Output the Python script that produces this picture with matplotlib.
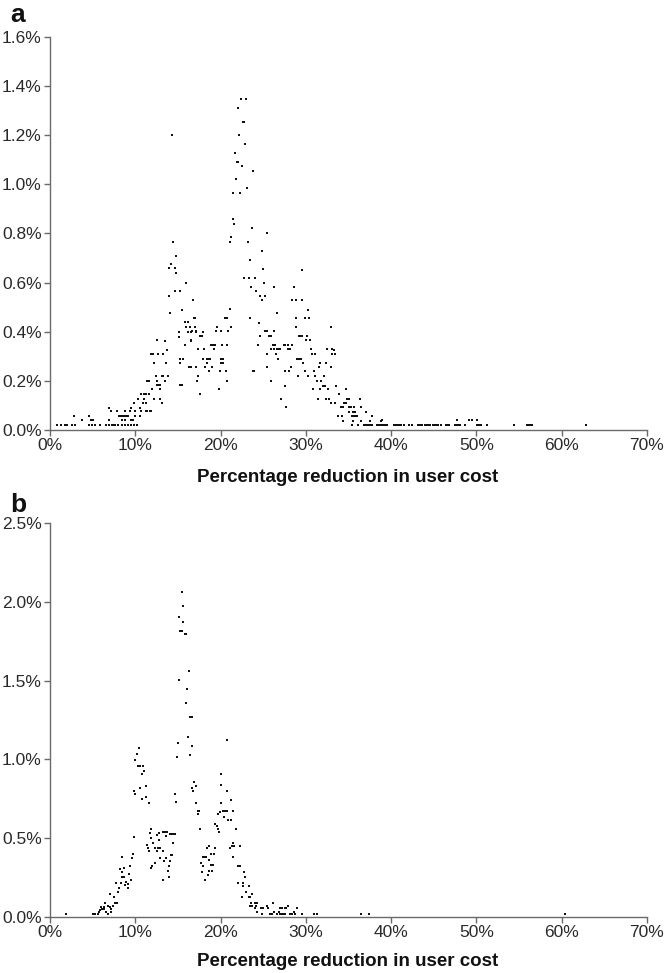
import matplotlib
matplotlib.use("Agg")
import matplotlib.pyplot as plt
from matplotlib.ticker import FuncFormatter, MultipleLocator

plt.rcParams['font.family'] = ['Liberation Sans', 'DejaVu Sans']

# ---------------- Panel a data (x: % reduction, y: % share) ----------------
a_x_low = [0.86, 1.25, 1.76, 2.0, 2.55, 2.94, 4.6, 4.9, 5.3, 5.9, 6.6, 6.9, 7.25, 7.45, 7.65, 7.96, 8.5, 8.8, 9.1, 9.5, 9.8, 10.2,
           3.8, 4.8, 5.0, 6.9, 8.5, 8.8, 9.5, 9.7,
           2.86, 4.63, 8.04, 8.2, 8.4, 8.6, 8.8, 9.0, 9.2, 10.0, 10.5,
           7.1, 7.8, 8.8, 9.4, 10.0, 10.7, 11.2, 11.4, 11.7, 11.9,
           6.9, 9.5, 10.5,
           9.9, 10.9, 11.2, 13.1,
           10.3, 11.0, 12.2, 12.9,
           10.7, 11.0, 11.3, 11.6,
           12.0, 12.9,
           12.5, 12.7, 12.9, 15.5,
           11.4, 11.6, 12.5, 13.5,
           12.4, 13.1, 13.2, 13.8,
           16.5, 12.2, 13.6, 15.2, 15.6,
           11.9, 12.1, 12.7, 13.3, 13.7, 15.8, 13.5, 16.5, 12.6, 15.1, 15.1, 16.2, 16.5]
a_y_low = [0.02] * 22 + [0.04] * 8 + [0.057] * 11 + [0.076] * 10 + [0.09] * 3 + [0.11] * 4 + [0.128] * 4 + \
          [0.146] * 4 + [0.165] * 2 + [0.182] * 4 + [0.20] * 4 + [0.22] * 4 + \
          [0.255, 0.273, 0.273, 0.273, 0.29] + \
          [0.308, 0.308, 0.308, 0.308, 0.327, 0.345, 0.362, 0.362, 0.366, 0.38, 0.40, 0.40, 0.40]

a_x_mid = [14.3, 14.4, 14.8, 14.0, 14.2, 14.6, 14.8, 13.9, 14.1, 14.6, 15.3, 15.9, 15.5, 16.8, 16.9, 15.8, 16.2,
           16.0, 16.4, 16.5, 17.1, 17.9, 15.8, 16.5, 15.3, 15.2, 16.3,
           16.75, 21.05, 20.5, 17.0, 17.0, 16.6, 17.1, 17.6, 17.8, 19.6, 19.5, 20.1, 20.9, 21.2, 20.7,
           17.3, 18.0, 18.9, 19.1, 19.3, 19.2, 20.2, 20.7, 17.9, 18.4, 18.6, 18.8, 18.4, 20.0, 20.3, 20.1, 20.3,
           16.4, 17.1, 18.2, 19.0, 18.6, 19.9, 20.6, 17.4, 17.2, 20.8, 17.6, 19.8]
a_y_mid = [1.20, 0.763, 0.709, 0.658, 0.674, 0.658, 0.637, 0.546, 0.475, 0.565, 0.565, 0.60, 0.49, 0.53, 0.454, 0.438, 0.438,
           0.42, 0.42, 0.40, 0.40, 0.40, 0.346, 0.366, 0.29, 0.183, 0.257,
           0.528, 0.492, 0.455, 0.455, 0.42, 0.402, 0.402, 0.384, 0.384, 0.42, 0.402, 0.402, 0.402, 0.42, 0.455,
           0.33, 0.33, 0.347, 0.347, 0.347, 0.33, 0.347, 0.347, 0.29, 0.29, 0.29, 0.29, 0.274, 0.29, 0.29, 0.274, 0.274,
           0.256, 0.256, 0.256, 0.256, 0.238, 0.238, 0.238, 0.22, 0.20, 0.20, 0.146, 0.165]

a_x_peak = [22.4, 23.0, 22.0, 22.6, 22.8, 22.2, 22.9, 21.7, 21.9, 22.1, 22.5, 21.8, 23.8, 23.1, 21.4, 22.3, 21.5, 21.6,
            21.2, 21.1, 23.2, 23.7, 25.4, 23.4, 24.8, 22.7, 23.3, 24.0, 25.0, 23.6, 24.1, 24.2, 24.6, 24.9, 25.2,
            26.3, 23.5, 23.9, 26.6, 25.1,
            24.5, 25.2, 25.4, 25.5, 24.6, 25.7, 25.9, 26.3, 24.4, 26.2, 26.4, 27.4, 27.6, 27.9, 28.4, 25.9, 26.3,
            26.6, 26.8, 27.0, 27.9, 28.1, 25.5, 26.5, 26.7, 25.4, 23.8, 28.2, 27.6, 28.0, 25.9, 27.6, 27.1, 27.7,
            29.1, 29.2, 28.4, 28.9, 28.6]
a_y_peak = [1.345, 1.345, 1.31, 1.254, 1.254, 1.20, 1.163, 1.128, 1.09, 1.09, 1.075, 1.02, 1.055, 0.983, 0.965, 0.965, 0.857, 0.838,
            0.784, 0.763, 0.763, 0.82, 0.80, 0.693, 0.73, 0.62, 0.62, 0.62, 0.655, 0.583, 0.565, 0.565, 0.546, 0.53, 0.546,
            0.583, 0.454, 0.241, 0.475, 0.60,
            0.437, 0.402, 0.402, 0.402, 0.384, 0.384, 0.384, 0.402, 0.347, 0.347, 0.347, 0.347, 0.347, 0.347, 0.347, 0.33, 0.33,
            0.33, 0.33, 0.33, 0.33, 0.33, 0.311, 0.311, 0.29, 0.256, 0.238, 0.256, 0.238, 0.238, 0.20, 0.18, 0.128, 0.092,
            0.22, 0.29, 0.528, 0.528, 0.58]

a_x_right = [29.6, 29.5, 30.2, 28.9, 29.9, 30.4, 32.95, 28.8, 29.2, 29.4, 29.6, 30.1, 30.0, 30.5, 30.6, 32.5, 33.1,
             30.7, 31.1, 33.1, 29.0, 29.2, 29.4, 29.7, 31.6, 32.4, 31.5, 32.9, 29.9, 30.9, 31.0, 29.1, 30.3, 31.1, 32.1,
             31.3, 31.8, 32.0, 32.2, 33.5, 30.8, 31.7, 32.6, 33.85, 34.7, 31.4, 32.4, 32.7, 34.8, 35.0, 36.3,
             32.9, 33.4, 34.5, 34.7, 34.1, 34.3, 35.0, 35.3, 35.7, 36.5, 35.1, 35.5, 35.8, 37.0,
             33.8, 34.2, 35.4, 35.6, 35.8, 36.0, 37.8, 34.4, 35.5, 36.5, 37.5, 38.8, 33.3, 33.4]
a_y_right = [0.65, 0.528, 0.49, 0.455, 0.455, 0.455, 0.42, 0.42, 0.384, 0.384, 0.384, 0.384, 0.365, 0.365, 0.33, 0.33, 0.33,
             0.311, 0.311, 0.311, 0.29, 0.29, 0.29, 0.274, 0.274, 0.274, 0.256, 0.256, 0.238, 0.238, 0.238, 0.22, 0.22, 0.22, 0.22,
             0.20, 0.20, 0.18, 0.18, 0.18, 0.165, 0.165, 0.165, 0.146, 0.165, 0.128, 0.128, 0.128, 0.128, 0.128, 0.128,
             0.11, 0.11, 0.11, 0.11, 0.092, 0.092, 0.092, 0.092, 0.092, 0.092, 0.074, 0.074, 0.074, 0.074,
             0.055, 0.055, 0.055, 0.055, 0.055, 0.055, 0.055, 0.037, 0.037, 0.037, 0.037, 0.037, 0.325, 0.31]

a_x_tail = [35.4, 36.1, 36.8, 37.0, 37.2, 37.4, 37.6, 37.8, 38.3, 38.5, 38.7,
            38.9, 39.1, 39.3, 39.5, 40.3, 40.5, 40.7, 40.9, 41.2, 41.5, 42.1, 42.4, 43.2, 43.4, 43.6, 44.0, 44.2,
            44.3, 44.6, 44.9, 45.1, 45.3, 45.5, 45.8, 46.4, 46.6, 46.8, 47.5, 47.7, 47.9, 48.1, 48.7, 50.1, 50.3,
            50.5, 51.2, 54.4, 55.9, 56.1, 56.3, 56.5, 62.9,
            38.9, 47.7, 49.1, 49.5, 50.1]
a_y_tail = [0.02] * 53 + [0.04] * 5

# ---------------- Panel b data ----------------
b_x_ramp = [1.9, 5.0, 5.3, 5.6, 5.75, 6.1, 6.3, 6.3, 6.5, 6.85, 7.0, 6.85, 7.2, 7.2, 7.4, 7.6, 7.8, 7.5, 7.0,
            8.0, 8.1, 8.3, 8.5, 8.7, 8.4, 8.2, 7.75, 8.9, 9.1, 9.2, 8.8, 8.7, 8.4, 9.3, 9.5, 9.4, 9.6, 9.7, 9.9,
            5.9, 6.0, 6.6]
b_y_ramp = [0.015, 0.015, 0.015, 0.015, 0.032, 0.047, 0.064, 0.047, 0.085, 0.07, 0.064, 0.015, 0.032, 0.049, 0.068,
            0.089, 0.089, 0.123, 0.142, 0.159, 0.18, 0.216, 0.25, 0.25, 0.286, 0.305, 0.216, 0.222, 0.21, 0.18, 0.2,
            0.307, 0.38, 0.27, 0.233, 0.324, 0.375, 0.396, 0.504, 0.04, 0.06, 0.03]

b_x_left = [10.4, 10.2, 10.0, 10.3, 10.6, 10.9, 11.0, 10.8, 9.86, 9.98, 10.5, 10.8, 11.2, 11.2, 11.6,
            11.35, 11.5, 11.6, 11.9, 11.7, 11.8, 12.1, 12.3, 12.5, 12.7, 12.9, 13.2, 12.75, 12.6, 12.8, 13.2,
            13.5, 13.7, 13.6, 14.1, 14.3, 14.5, 14.7, 14.4, 11.9, 12.0, 12.3, 12.9, 13.3, 13.9, 13.4, 13.6,
            13.9, 14.2, 14.3, 14.1, 13.8]
b_y_left = [1.07, 1.034, 0.996, 0.96, 0.96, 0.96, 0.926, 0.905, 0.80, 0.78, 0.816, 0.746, 0.763, 0.833, 0.725,
            0.455, 0.434, 0.42, 0.497, 0.534, 0.56, 0.47, 0.434, 0.42, 0.434, 0.434, 0.42, 0.49, 0.517, 0.53, 0.54,
            0.54, 0.54, 0.51, 0.525, 0.525, 0.525, 0.525, 0.47, 0.307, 0.32, 0.343, 0.37, 0.233, 0.25, 0.354, 0.37,
            0.32, 0.39, 0.39, 0.356, 0.29]

b_x_peak = [15.45, 15.6, 15.1, 15.65, 15.25, 15.45, 15.8, 16.0, 16.3, 15.1, 16.1, 15.95, 16.4, 16.6, 15.0, 16.2,
            16.7, 16.4, 14.9, 14.7, 14.75,
            16.9, 17.1, 16.7, 16.8, 17.1, 17.3, 17.5, 17.4, 17.6]
b_y_peak = [2.066, 1.977, 1.907, 1.87, 1.816, 1.816, 1.795, 1.795, 1.56, 1.504, 1.45, 1.36, 1.267, 1.267, 1.106, 1.14,
            1.087, 1.03, 1.017, 0.78, 0.727,
            0.854, 0.833, 0.816, 0.80, 0.725, 0.672, 0.672, 0.65, 0.56]

b_x_right = [20.0, 20.05, 20.1, 20.7, 21.2, 19.75, 19.95, 20.3, 20.5, 20.7, 20.9, 21.2, 21.4, 19.4, 19.6, 19.7, 19.8,
             21.8, 21.5, 21.6, 21.1, 21.3, 22.3, 21.5, 20.7, 20.4, 20.8,
             17.9, 18.1, 18.3, 18.4, 18.6, 17.7, 17.9, 18.6, 18.9, 19.2, 19.3, 18.9, 19.1, 18.7, 19.0, 18.5, 18.2, 17.8,
             22.1, 22.3, 22.8, 22.9, 22.1, 22.6, 22.6, 23.3, 23.0, 23.3, 23.5, 22.5, 23.7]
b_y_right = [0.905, 0.837, 0.725, 0.80, 0.742, 0.65, 0.667, 0.672, 0.672, 0.672, 0.614, 0.614, 0.672, 0.59, 0.578, 0.56, 0.54,
             0.56, 0.47, 0.45, 0.434, 0.45, 0.45, 0.38, 1.123, 0.636, 0.797,
             0.38, 0.38, 0.38, 0.434, 0.45, 0.343, 0.322, 0.36, 0.40, 0.40, 0.434, 0.328, 0.328, 0.292, 0.288, 0.265, 0.233, 0.286,
             0.324, 0.324, 0.286, 0.25, 0.212, 0.197, 0.212, 0.197, 0.159, 0.127, 0.127, 0.127, 0.144]

b_x_tail = [23.5, 23.7, 24.1, 23.55, 24.06, 24.26, 24.0, 24.7, 25.0, 24.3, 24.8, 25.4, 25.6, 25.8, 26.0, 26.2, 26.3,
            26.8, 26.6, 27.0, 27.2, 27.4, 27.6, 27.0, 27.2, 27.5, 27.7, 27.9, 28.1, 28.4, 28.7, 28.6, 29.0, 29.5,
            31.0, 31.3, 36.5, 37.4, 60.4]
b_y_tail = [0.07, 0.07, 0.07, 0.089, 0.089, 0.089, 0.053, 0.053, 0.053, 0.032, 0.015, 0.07, 0.053, 0.015, 0.015, 0.089, 0.032,
            0.032, 0.015, 0.015, 0.015, 0.015, 0.015, 0.053, 0.053, 0.053, 0.053, 0.07, 0.015, 0.015, 0.015, 0.032, 0.053, 0.015,
            0.015, 0.015, 0.015, 0.015, 0.015]

xa = a_x_low + a_x_mid + a_x_peak + a_x_right + a_x_tail
ya = a_y_low + a_y_mid + a_y_peak + a_y_right + a_y_tail
xb = b_x_ramp + b_x_left + b_x_peak + b_x_right + b_x_tail
yb = b_y_ramp + b_y_left + b_y_peak + b_y_right + b_y_tail

xlabel = "Percentage reduction in user cost"

W, H = 669, 973
fig = plt.figure(figsize=(W / 100, H / 100), dpi=100)

def px_axes(left, top, right, bottom):
    return fig.add_axes([left / W, 1 - bottom / H, (right - left) / W, (bottom - top) / H])

axa = px_axes(50, 36.7, 647, 430)
axb = px_axes(50, 523.3, 647, 916.7)

spine_col = '#6a6a6a'
text_col = '#2a2a2a'

def style(ax, ymax, ystep, yfmt):
    ax.set_xlim(0, 70)
    ax.set_ylim(0, ymax)
    ax.xaxis.set_major_locator(MultipleLocator(10))
    ax.yaxis.set_major_locator(MultipleLocator(ystep))
    ax.xaxis.set_major_formatter(FuncFormatter(lambda v, p: f"{v:.0f}%"))
    ax.yaxis.set_major_formatter(FuncFormatter(lambda v, p: yfmt.format(v)))
    for s in ['top', 'right']:
        ax.spines[s].set_visible(False)
    for s in ['left', 'bottom']:
        ax.spines[s].set_color(spine_col)
        ax.spines[s].set_linewidth(1.0)
    ax.tick_params(axis='both', direction='out', length=4, width=1.0, color=spine_col,
                   labelsize=12.5, labelcolor=text_col, pad=2)
    ax.set_facecolor('white')

axa.scatter(xa, ya, s=3.5, marker='s', color='#111111', linewidths=0)
axb.scatter(xb, yb, s=3.5, marker='s', color='#111111', linewidths=0)
for ax in (axa, axb):
    for sp in ax.spines.values():
        sp.set_zorder(3)

style(axa, 1.6, 0.2, "{:.1f}%")
style(axb, 2.5, 0.5, "{:.1f}%")

fig.text(348 / W, 1 - 478 / H, xlabel, ha='center', va='center', fontsize=13.5, fontweight='bold', color='#111111')
fig.text(348 / W, 1 - 962 / H, xlabel, ha='center', va='center', fontsize=13.5, fontweight='bold', color='#111111')
fig.text(10 / W, 1 - 15 / H, "a", ha='left', va='center', fontsize=19, fontweight='bold', color='#111111')
fig.text(10 / W, 1 - 505 / H, "b", ha='left', va='center', fontsize=19, fontweight='bold', color='#111111')

fig.savefig("out.png", dpi=100, facecolor='white')
